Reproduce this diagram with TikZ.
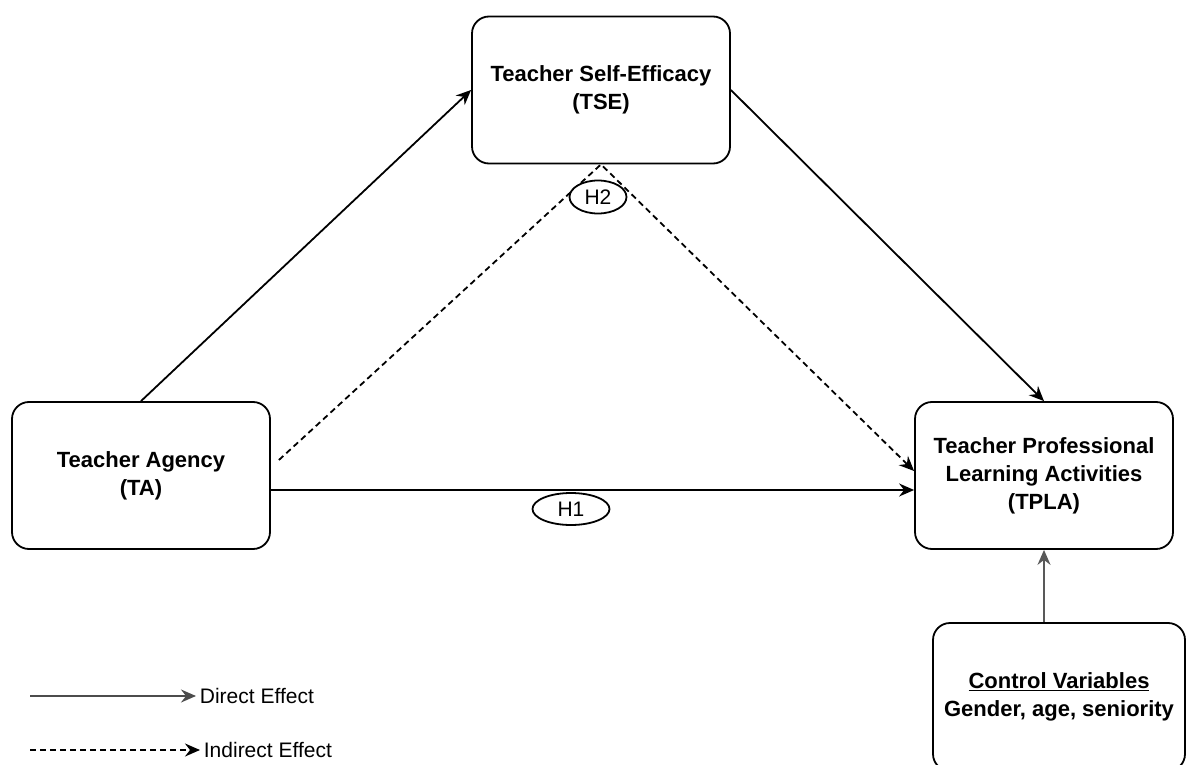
\documentclass[tikz,border=0pt]{standalone}
\usepackage{fontspec}
\setmainfont{Liberation Sans}
\usetikzlibrary{arrows.meta,shapes.geometric}

\begin{document}
\begin{tikzpicture}[x=1pt, y=-1pt, line width=1.8pt,
  box/.style={draw, rounded corners=17pt, align=center, font=\fontsize{22}{28}\selectfont\bfseries,
    minimum width=258pt, minimum height=147pt, inner sep=0pt},
  hyp/.style={draw, ellipse, inner sep=0pt, font=\fontsize{21}{26}\selectfont},
  eff/.style={-{Stealth[length=15pt,width=13pt,inset=5pt]}},
  ind/.style={eff, dash pattern=on 6pt off 4pt}]
\useasboundingbox (0,0) rectangle (1187,765);
\node [box] (tse) at (601,90) {Teacher Self-Efficacy\\(TSE)};
\node [box] (ta) at (141,475.5) {Teacher Agency\\(TA)};
\node [box] (tpla) at (1044,475.5) {Teacher Professional\\Learning Activities\\(TPLA)};
\node [box, minimum width=252pt, minimum height=148pt] (ctrl) at (1059,697) {\underline{Control Variables}\\Gender, age, seniority};
\draw [eff] (ta.north) -- (tse.west);
\draw [eff] (tse.east) -- (tpla.north);
\draw [eff] ([yshift=-14.5pt]ta.east) -- ([yshift=-14.5pt]tpla.west);
\draw [ind] ([shift={(8pt,15.5pt)}]ta.east) -- (tse.south) -- ([yshift=4.5pt]tpla.west);
\draw [eff, draw=black!65] (ctrl.north -| tpla.south) -- (tpla.south);
\node [hyp, fill=white, minimum width=57pt, minimum height=33pt] (htwo) at (598,197) {H2};
\node [hyp, minimum width=77pt, minimum height=32pt] (hone) at (571,509) {H1};
\coordinate (dstart) at (30,696);
\node [right, inner sep=3pt, font=\fontsize{21}{26}\selectfont] (dlab) at (196,696) {Direct Effect};
\draw [eff, draw=black!70] (dstart) -- (dlab.west);
\coordinate (istart) at (30,750);
\node [right, inner sep=3pt, font=\fontsize{21}{26}\selectfont] (ilab) at (200,750) {Indirect Effect};
\draw [ind] (istart) -- (ilab.west);
\end{tikzpicture}
\end{document}
